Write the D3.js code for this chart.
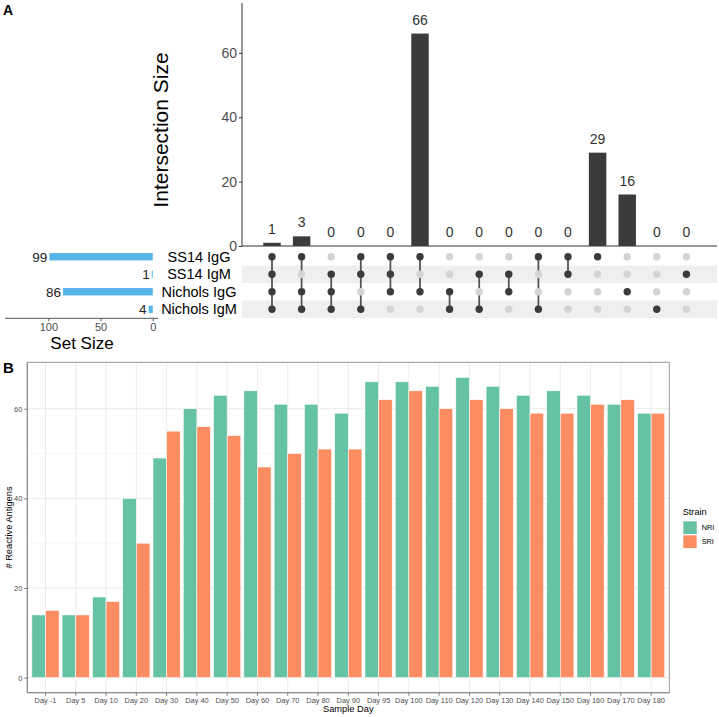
<!DOCTYPE html>
<html>
<head>
<meta charset="utf-8">
<script src="https://cdn.jsdelivr.net/npm/d3@7"></script>
<style>
html,body{margin:0;padding:0;background:#fff;}
svg{display:block;font-family:"Liberation Sans",Arial,Helvetica,sans-serif;}
</style>
</head>
<body>
<svg id="chart" width="719" height="717"></svg>
<script>
// ---------- Panel A data ----------
const intersectionSizes = [1, 3, 0, 0, 0, 66, 0, 0, 0, 0, 0, 29, 16, 0, 0];
const setNames = ["SS14 IgG", "SS14 IgM", "Nichols IgG", "Nichols IgM"];
const setSizes = [99, 1, 86, 4];
// membership per intersection column, rows in setNames order
const memberships = [
  [1,1,1,1],[1,0,1,1],[0,1,1,1],[1,1,0,1],[1,1,1,0],
  [1,0,1,0],[0,0,1,1],[0,1,0,1],[0,1,1,0],[1,0,0,1],
  [1,1,0,0],[1,0,0,0],[0,0,1,0],[0,0,0,1],[0,1,0,0]
];
const intersectionTicks = [0, 20, 40, 60];
const setSizeTicks = [100, 50, 0];

// ---------- Panel B data ----------
const days = ["Day -1","Day 5","Day 10","Day 20","Day 30","Day 40","Day 50","Day 60","Day 70","Day 80","Day 90",
              "Day 95","Day 100","Day 110","Day 120","Day 130","Day 140","Day 150","Day 160","Day 170","Day 180"];
const strains = ["NRI", "SRI"];
const nriValues = [14, 14, 18, 40, 49, 60, 63, 64, 61, 61, 59, 66, 66, 65, 67, 65, 63, 64, 63, 61, 59];
const sriValues = [15, 14, 17, 30, 55, 56, 54, 47, 50, 51, 51, 62, 64, 60, 62, 60, 59, 59, 61, 62, 59];
const yTicksB = [0, 20, 40, 60];
const yMinorB = [10, 30, 50];

const svg = d3.select("#chart");

// ================= PANEL A =================
const dark = "#3b3b3b", light = "#d4d4d4";
const cols = d3.range(intersectionSizes.length);

const xI = d3.scaleBand().domain(cols).range([257.2, 701.2]).paddingInner(0.41).paddingOuter(0.205);
const yI = d3.scaleLinear().domain([0, 75.5]).range([246, 3]);

svg.append("text").attr("x", 3).attr("y", 15).attr("font-size", 14).attr("font-weight", "bold").text("A");

const gI = svg.append("g");
// axis
const yAxisI = d3.axisLeft(yI).tickValues(intersectionTicks).tickSize(3).tickPadding(2);
const ga = gI.append("g").attr("transform", "translate(242,0)").call(yAxisI);
ga.select(".domain").attr("stroke", "#333").attr("d", `M0,${yI(75.5)}V${yI(0)}`);
ga.selectAll(".tick line").attr("stroke", "#333");
ga.selectAll(".tick text").attr("fill", "#4d4d4d").attr("font-size", 14).attr("font-family", "Liberation Sans, Arial");
gI.append("line").attr("x1", 242).attr("x2", 717).attr("y1", yI(0)).attr("y2", yI(0)).attr("stroke", "#333");

gI.selectAll("rect.ib").data(intersectionSizes).join("rect")
  .attr("x", (d, i) => xI(i)).attr("width", xI.bandwidth())
  .attr("y", d => yI(d)).attr("height", d => yI(0) - yI(d))
  .attr("fill", dark);
gI.selectAll("text.il").data(intersectionSizes).join("text")
  .attr("x", (d, i) => xI(i) + xI.bandwidth() / 2).attr("y", d => yI(d) - 9)
  .attr("text-anchor", "middle").attr("font-size", 14).attr("fill", "#333").text(d => d);

svg.append("text").attr("transform", `translate(168,130) rotate(-90)`)
  .attr("text-anchor", "middle").attr("font-size", 21).attr("fill", "#000").text("Intersection Size");

// matrix
const yM = d3.scaleBand().domain(d3.range(setNames.length)).range([248, 318]);
const gM = svg.append("g");
gM.selectAll("rect.stripe").data(setNames).join("rect")
  .attr("x", 242).attr("width", 717 - 242)
  .attr("y", (d, i) => yM(i)).attr("height", yM.bandwidth())
  .attr("fill", (d, i) => i % 2 === 1 ? "#efefef" : "none");

memberships.forEach((m, c) => {
  const cx = xI(c) + xI.bandwidth() / 2;
  const on = m.map((v, r) => v ? r : null).filter(v => v !== null);
  if (on.length > 1) {
    gM.append("line").attr("x1", cx).attr("x2", cx)
      .attr("y1", yM(d3.min(on)) + yM.bandwidth() / 2).attr("y2", yM(d3.max(on)) + yM.bandwidth() / 2)
      .attr("stroke", "#555").attr("stroke-width", 1.8);
  }
  m.forEach((v, r) => {
    gM.append("circle").attr("cx", cx).attr("cy", yM(r) + yM.bandwidth() / 2).attr("r", 3.7)
      .attr("fill", v ? dark : light);
  });
});

// set names
svg.selectAll("text.sn").data(setNames).join("text")
  .attr("x", 199).attr("y", (d, i) => yM(i) + yM.bandwidth() / 2).attr("dy", "0.35em")
  .attr("text-anchor", "middle").attr("font-size", 14.5).attr("fill", "#000").text(d => d);

// set size bars
const xS = d3.scaleLinear().domain([141.5, -5]).range([5, 158]);
const yS = d3.scaleBand().domain(d3.range(setNames.length)).range([248, 318]).paddingInner(0.58).paddingOuter(0.29);
const gS = svg.append("g");
gS.selectAll("rect").data(setSizes).join("rect")
  .attr("x", d => xS(d)).attr("width", d => xS(0) - xS(d))
  .attr("y", (d, i) => yS(i)).attr("height", yS.bandwidth())
  .attr("fill", "#56b4e9");
gS.selectAll("text").data(setSizes).join("text")
  .attr("x", d => xS(d) - 2).attr("y", (d, i) => yS(i) + yS.bandwidth() / 2).attr("dy", "0.36em")
  .attr("text-anchor", "end").attr("font-size", 13.5).attr("fill", "#222").text(d => d);
const xAxisS = d3.axisBottom(xS).tickValues(setSizeTicks).tickSize(3).tickPadding(2);
const gsa = svg.append("g").attr("transform", "translate(0,318.3)").call(xAxisS);
gsa.select(".domain").attr("stroke", "#555").attr("d", `M${xS(141.5)},0H${xS(-5)}`);
gsa.selectAll(".tick line").attr("stroke", "#555");
gsa.selectAll(".tick text").attr("fill", "#4d4d4d").attr("font-size", 11).attr("font-family", "Liberation Sans, Arial");
svg.append("text").attr("x", 82).attr("y", 348.5).attr("text-anchor", "middle")
  .attr("font-size", 17).attr("fill", "#000").text("Set Size");

// ================= PANEL B =================
svg.append("text").attr("x", 3).attr("y", 372.5).attr("font-size", 15).attr("font-weight", "bold").text("B");

const pL = 27.3, pR = 669.3, pT = 362.3, pB = 692.7;
const xB = d3.scaleBand().domain(days).range([pL, pR]).paddingInner(0.1).paddingOuter(0.15);
const xSub = d3.scaleBand().domain(strains).range([0, xB.bandwidth()]);
const yB = d3.scaleLinear().domain([-3.35, 70.35]).range([pB, pT]);
const colorB = d3.scaleOrdinal().domain(strains).range(["#66c2a5", "#fc8d62"]);

const gB = svg.append("g");
// grid
gB.selectAll("line.minor").data(yMinorB).join("line")
  .attr("x1", pL).attr("x2", pR).attr("y1", d => yB(d)).attr("y2", d => yB(d))
  .attr("stroke", "#f2f2f2").attr("stroke-width", 0.6);
gB.selectAll("line.major").data(yTicksB).join("line")
  .attr("x1", pL).attr("x2", pR).attr("y1", d => yB(d)).attr("y2", d => yB(d))
  .attr("stroke", "#ebebeb").attr("stroke-width", 1);
gB.selectAll("line.vg").data(days).join("line")
  .attr("x1", d => xB(d) + xB.bandwidth() / 2).attr("x2", d => xB(d) + xB.bandwidth() / 2)
  .attr("y1", pT).attr("y2", pB).attr("stroke", "#ebebeb").attr("stroke-width", 1);

// bars
const barData = [];
days.forEach((d, i) => {
  barData.push({ day: d, strain: "NRI", v: nriValues[i] });
  barData.push({ day: d, strain: "SRI", v: sriValues[i] });
});
gB.selectAll("rect.bar").data(barData).join("rect")
  .attr("x", d => xB(d.day) + xSub(d.strain)).attr("width", xSub.bandwidth())
  .attr("y", d => yB(d.v)).attr("height", d => yB(0) - yB(d.v))
  .attr("fill", d => colorB(d.strain)).attr("stroke", "#ffffff").attr("stroke-width", 0.6);

// border
gB.append("rect").attr("x", pL).attr("y", pT).attr("width", pR - pL).attr("height", pB - pT)
  .attr("fill", "none").attr("stroke", "#999").attr("stroke-width", 1);
gB.append("path").attr("d", `M${pL},${pT}V${pB}H${pR}`).attr("fill", "none").attr("stroke", "#888").attr("stroke-width", 1);

// axes
const yAxisB = d3.axisLeft(yB).tickValues(yTicksB).tickSize(3).tickPadding(2);
const gyb = svg.append("g").attr("transform", `translate(${pL},0)`).call(yAxisB);
gyb.select(".domain").remove();
gyb.selectAll(".tick line").attr("stroke", "#777");
gyb.selectAll(".tick text").attr("fill", "#4d4d4d").attr("font-size", 7.4).attr("font-family", "Liberation Sans, Arial");

const xAxisB = d3.axisBottom(xB).tickSize(3).tickPadding(2);
const gxb = svg.append("g").attr("transform", `translate(0,${pB})`).call(xAxisB);
gxb.select(".domain").remove();
gxb.selectAll(".tick line").attr("stroke", "#777");
gxb.selectAll(".tick text").attr("fill", "#4d4d4d").attr("font-size", 7.4).attr("font-family", "Liberation Sans, Arial");

svg.append("text").attr("x", (pL + pR) / 2).attr("y", 712).attr("text-anchor", "middle")
  .attr("font-size", 9.3).attr("fill", "#000").text("Sample Day");
svg.append("text").attr("transform", `translate(12,${(pT + pB) / 2}) rotate(-90)`)
  .attr("text-anchor", "middle").attr("font-size", 9.3).attr("fill", "#000").text("# Reactive Antigens");

// legend
const gL = svg.append("g");
gL.append("text").attr("x", 682.7).attr("y", 515).attr("font-size", 9.2).attr("fill", "#000").text("Strain");
gL.selectAll("rect").data(strains).join("rect")
  .attr("x", 683).attr("y", (d, i) => 521 + i * 14).attr("width", 14).attr("height", 13.3)
  .attr("fill", d => colorB(d)).attr("stroke", "#ffffff").attr("stroke-width", 0.6);
gL.selectAll("text.lt").data(strains).join("text")
  .attr("x", 701.7).attr("y", (d, i) => 527.7 + i * 14).attr("dy", "0.35em")
  .attr("font-size", 7.3).attr("fill", "#000").text(d => d);
</script>
</body>
</html>
